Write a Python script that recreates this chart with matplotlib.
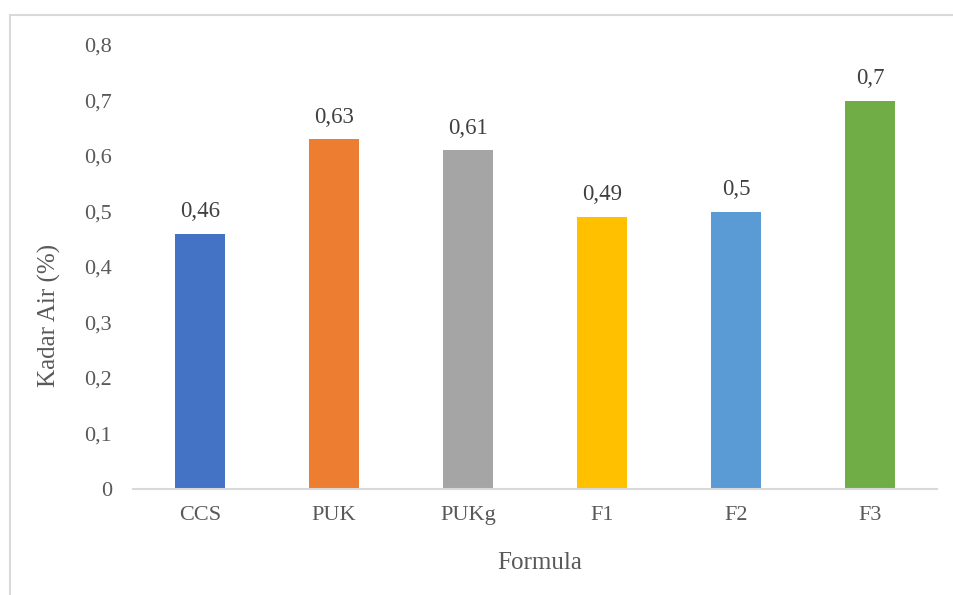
import matplotlib
matplotlib.use("Agg")
import matplotlib.pyplot as plt
from matplotlib.patches import Rectangle

categories = ["CCS", "PUK", "PUKg", "F1", "F2", "F3"]
values = [0.46, 0.63, 0.61, 0.49, 0.50, 0.70]
colors = ["#4472C4", "#ED7D31", "#A5A5A5", "#FFC000", "#5B9BD5", "#70AD47"]
y_ticks = [0.0, 0.1, 0.2, 0.3, 0.4, 0.5, 0.6, 0.7, 0.8]

def fmt(v):
    s = ("%.2f" % v).rstrip("0").rstrip(".")
    return s.replace(".", ",")

plt.rcParams["font.family"] = ["Liberation Serif", "DejaVu Serif"]
text_color = "#595959"

W, H = 954, 595
fig = plt.figure(figsize=(W / 100, H / 100), dpi=100)

# chart area border (open at right and bottom)
fig.add_artist(Rectangle((10 / W, -0.1), 1.2, 1 - 15 / H + 0.1,
                         transform=fig.transFigure, fill=False,
                         edgecolor="#D9D9D9", linewidth=1.5))

left, right, bottom, top = 133 / W, 937 / W, 1 - 489 / H, 1 - 45 / H
ax = fig.add_axes([left, bottom, right - left, top - bottom])

x = list(range(len(categories)))
bars = ax.bar(x, values, width=0.366, color=colors, zorder=2)
ax.set_xlim(-0.5, len(categories) - 0.5)
ax.set_ylim(0, 0.8)

for xi, v in zip(x, values):
    ax.annotate(fmt(v), (xi, v), xytext=(0, 12), textcoords="offset points",
                ha="center", va="baseline", fontsize=16.5, color="#404040")

ax.set_xticks(x)
ax.set_xticklabels(categories, fontsize=16, color=text_color)
ax.set_yticks(y_ticks)
ax.set_yticklabels([fmt(t) for t in y_ticks], fontsize=16, color=text_color)
ax.tick_params(axis="both", length=0)
ax.tick_params(axis="x", pad=12)
ax.tick_params(axis="y", pad=15)

for side in ["top", "right", "left"]:
    ax.spines[side].set_visible(False)
ax.spines["bottom"].set_color("#D9D9D9")
ax.spines["bottom"].set_linewidth(1.5)

fig.text(49 / W, 1 - 315 / H, "Kadar Air (%)", rotation=90, ha="center",
         va="center", fontsize=18, color=text_color)
fig.text(540 / W, 1 - 563 / H, "Formula", ha="center", va="center",
         fontsize=18, color=text_color)

fig.savefig("out.png", dpi=100)
